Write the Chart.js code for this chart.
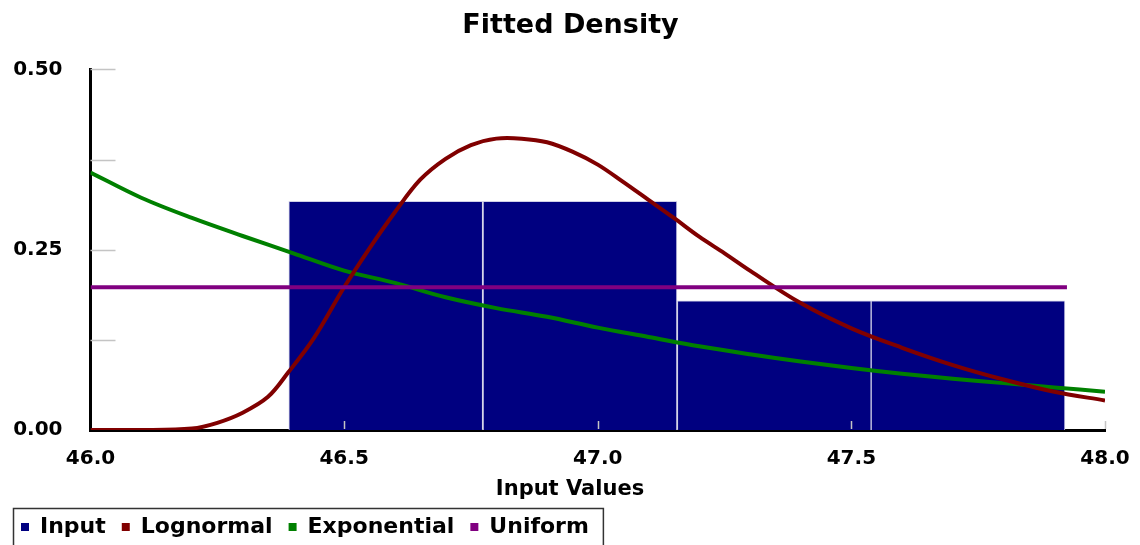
<!DOCTYPE html>
<html>
<head>
<meta charset="utf-8">
<title>Fitted Density</title>
<script src="https://cdn.jsdelivr.net/npm/chart.js@4/dist/chart.umd.min.js"></script>
<style>
  html, body { margin: 0; padding: 0; background: #fff; }
  #wrap { width: 1140px; height: 545px; }
</style>
</head>
<body>
<div id="wrap"><canvas id="myChart"></canvas></div>
<script>
// histogram bins (centres) and heights
const binCenters = [46.582, 46.965, 47.348, 47.730];
const binHeights = [0.317, 0.317, 0.179, 0.179];

// lognormal fit
const lognormX = [46.0, 46.1, 46.2, 46.25, 46.3, 46.35, 46.39, 46.44, 46.5, 46.55, 46.6, 46.65, 46.7, 46.75,
  46.8, 46.85, 46.9, 46.95, 47.0, 47.05, 47.1, 47.15, 47.2, 47.25, 47.3, 47.4, 47.5, 47.6, 47.7, 47.8, 47.9, 48.0];
const lognormY = [0, 0, 0.002, 0.010, 0.024, 0.046, 0.080, 0.127, 0.198, 0.252, 0.302, 0.347, 0.376, 0.395,
  0.404, 0.404, 0.399, 0.386, 0.368, 0.344, 0.319, 0.294, 0.268, 0.245, 0.221, 0.176, 0.141, 0.114, 0.090, 0.070, 0.053, 0.041];

// exponential fit
const expoX = [46.0, 46.1, 46.2, 46.3, 46.4, 46.5, 46.6, 46.7, 46.8, 46.9, 47.0, 47.1, 47.2, 47.3, 47.4, 47.5, 47.6, 47.7, 47.8, 47.9, 48.0];
const expoY = [0.357, 0.322, 0.294, 0.269, 0.245, 0.221, 0.204, 0.184, 0.169, 0.157, 0.142, 0.129, 0.116, 0.105, 0.095, 0.086, 0.078, 0.071, 0.065, 0.059, 0.053];

// uniform fit
const uniformX = [46.0, 47.925];
const uniformY = [0.198, 0.198];

const xTicks = [46.5, 47.0, 47.5, 48.0];
const yMinorTicks = [0.125, 0.25, 0.375, 0.5];
const xAxisTitle = 'Input Values';

const toPoints = (xs, ys) => xs.map((x, i) => ({ x: x, y: ys[i] }));

Chart.defaults.font.family = "'DejaVu Sans', sans-serif";
Chart.defaults.font.weight = 'bold';
Chart.defaults.color = '#000';

// short grey ticks pointing into the plot area
const innerTicks = {
  id: 'innerTicks',
  afterDatasetsDraw(chart) {
    const { ctx, chartArea, scales } = chart;
    ctx.save();
    ctx.strokeStyle = '#c4c4c4';
    ctx.lineWidth = 1.5;
    ctx.beginPath();
    yMinorTicks.forEach(v => {
      const py = Math.round(scales.y.getPixelForValue(v)) + 0.5;
      ctx.moveTo(chartArea.left, py);
      ctx.lineTo(chartArea.left + 25, py);
    });
    xTicks.forEach(v => {
      const px = Math.round(scales.x.getPixelForValue(v)) + 0.5;
      ctx.moveTo(px, chartArea.bottom - 1);
      ctx.lineTo(px, chartArea.bottom - 9);
    });
    ctx.stroke();
    ctx.restore();
  }
};

// x axis title centred on the whole canvas (as in the original), plus a frame round the legend
const extras = {
  id: 'extras',
  afterDraw(chart) {
    const ctx = chart.ctx;
    ctx.save();
    ctx.font = "bold 21px 'DejaVu Sans', sans-serif";
    ctx.fillStyle = '#000';
    ctx.textAlign = 'center';
    ctx.textBaseline = 'middle';
    ctx.fillText(xAxisTitle, chart.width / 2, chart.scales.x.bottom - 10);

    const hb = chart.legend.legendHitBoxes;
    if (hb && hb.length) {
      const last = hb[hb.length - 1];
      const left = hb[0].left - 8;
      const right = last.left + last.width + 14;
      const top = hb[0].top - 8;
      ctx.strokeStyle = '#333';
      ctx.lineWidth = 1.5;
      ctx.strokeRect(left + 0.5, top + 0.5, right - left, chart.height - top + 10);
    }
    ctx.restore();
  }
};

new Chart(document.getElementById('myChart'), {
  type: 'bar',
  data: {
    datasets: [
      {
        type: 'bar',
        label: 'Input',
        data: toPoints(binCenters, binHeights),
        backgroundColor: '#000080',
        borderColor: '#cfcfe6',
        borderWidth: 1,
        barPercentage: 1,
        categoryPercentage: 1,
        order: 4
      },
      {
        type: 'line',
        label: 'Lognormal',
        data: toPoints(lognormX, lognormY),
        borderColor: '#800000',
        backgroundColor: '#800000',
        borderWidth: 4,
        pointRadius: 0,
        tension: 0.35,
        order: 2
      },
      {
        type: 'line',
        label: 'Exponential',
        data: toPoints(expoX, expoY),
        borderColor: '#008000',
        backgroundColor: '#008000',
        borderWidth: 4,
        pointRadius: 0,
        tension: 0.35,
        order: 3
      },
      {
        type: 'line',
        label: 'Uniform',
        data: toPoints(uniformX, uniformY),
        borderColor: '#800080',
        backgroundColor: '#800080',
        borderWidth: 4,
        pointRadius: 0,
        order: 1
      }
    ]
  },
  options: {
    responsive: true,
    maintainAspectRatio: false,
    animation: false,
    layout: { padding: { left: 5, right: 4, top: 0, bottom: -3 } },
    plugins: {
      title: {
        display: true,
        text: 'Fitted Density',
        font: { size: 27, weight: 'bold' },
        color: '#000',
        padding: { top: 10, bottom: 27 }
      },
      legend: {
        position: 'bottom',
        align: 'start',
        labels: {
          font: { size: 22, weight: 'bold' },
          color: '#000',
          boxWidth: 8,
          boxHeight: 8,
          padding: 16,
          generateLabels(chart) {
            return chart.data.datasets.map((ds, i) => ({
              text: ds.label,
              fillStyle: ds.backgroundColor,
              strokeStyle: ds.backgroundColor,
              lineWidth: 0,
              hidden: false,
              datasetIndex: i
            }));
          }
        }
      },
      tooltip: { enabled: false }
    },
    scales: {
      x: {
        type: 'linear',
        min: 46,
        max: 48,
        offset: false,
        grid: { display: false, drawTicks: false },
        border: { display: true, color: '#000', width: 3 },
        ticks: {
          stepSize: 0.5,
          padding: 17,
          font: { size: 20, weight: 'bold' },
          callback: v => v.toFixed(1)
        },
        afterFit(scale) {
          scale.height = 70;
          scale.paddingRight = 35;
        }
      },
      y: {
        min: 0,
        max: 0.5,
        grid: { display: false, drawTicks: false },
        border: { display: true, color: '#000', width: 3 },
        ticks: {
          stepSize: 0.25,
          padding: 28,
          font: { size: 20, weight: 'bold' },
          callback: v => v.toFixed(2)
        },
        afterFit(scale) { scale.width = 85.5; }
      }
    }
  },
  plugins: [innerTicks, extras]
});
</script>
</body>
</html>
